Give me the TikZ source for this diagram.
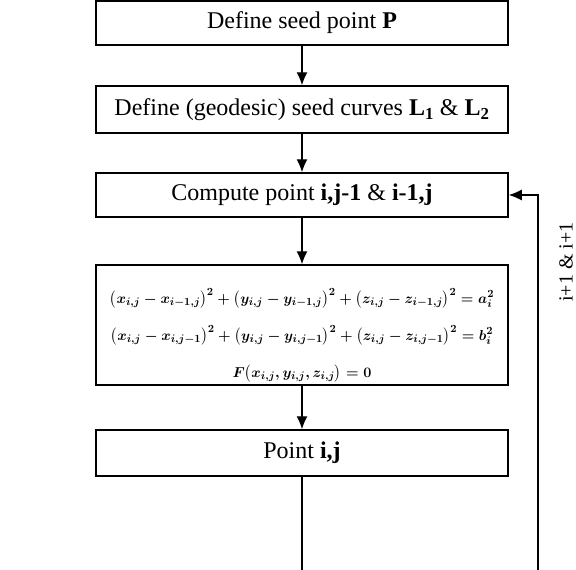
\documentclass[tikz,border=0pt]{standalone}
\usepackage{fontspec}
\setmainfont{Liberation Serif}
\usepackage{amsmath}
\usetikzlibrary{arrows.meta}

\begin{document}
\begin{tikzpicture}[x=1pt,y=1pt,>={Latex[length=13pt,width=11pt]}]

    % Estilos
    \tikzset{
        stepbox/.style={draw, line width=1.5pt, minimum width=412pt, inner sep=0pt,
            font=\fontsize{24}{28}\selectfont},
        eqtext/.style={align=center, inner sep=0pt,
            font=\fontsize{15.2}{37}\selectfont\boldmath},
        link/.style={->, line width=1.3pt},
    }
    \useasboundingbox (0,0) rectangle (576,-570);

    % 1. Cajas del diagrama
    \node[stepbox, minimum height=44pt] (seed) at (302,-23) {Define seed point \textbf{P}};
    \node[stepbox, minimum height=47pt] (curves) at (302,-109.5)
        {Define (geodesic) seed curves $\mathbf{L_1}$ \& $\mathbf{L_2}$};
    \node[stepbox, minimum height=44pt] (comp) at (302,-195)
        {Compute point \textbf{i,j-1} \& \textbf{i-1,j}};
    \node[stepbox, minimum height=120pt] (eqs) at (302,-325) {};
    \node[eqtext] (eqlines) at ([yshift=-10pt]eqs.center)
        {$\bigl(x_{i,j}-x_{i-1,j}\bigr)^2+\bigl(y_{i,j}-y_{i-1,j}\bigr)^2+\bigl(z_{i,j}-z_{i-1,j}\bigr)^2=a_i^2$\\
         $\bigl(x_{i,j}-x_{i,j-1}\bigr)^2+\bigl(y_{i,j}-y_{i,j-1}\bigr)^2+\bigl(z_{i,j}-z_{i,j-1}\bigr)^2=b_i^2$\\
         $F\bigl(x_{i,j},y_{i,j},z_{i,j}\bigr)=0$};
    \node[stepbox, minimum height=46pt] (pt) at (302,-453) {Point \textbf{i,j}};

    % 2. Flechas entre cajas
    \draw[link] (seed) -- (curves);
    \draw[link] (curves) -- (comp);
    \draw[link] (comp) -- (eqs);
    \draw[link] (eqs) -- (pt);

    % 3. Salida y lazo de retorno
    \coordinate (endpt) at (302,-570);
    \coordinate (loopbot) at (538,-570);
    \draw[line width=1.3pt] (pt.south) -- (endpt);
    \draw[link] (loopbot) |- (comp.east);
    \node[rotate=90, font=\fontsize{20}{24}\selectfont] (lbl) at (566,-262) {i+1 \& i+1};

\end{tikzpicture}
\end{document}
